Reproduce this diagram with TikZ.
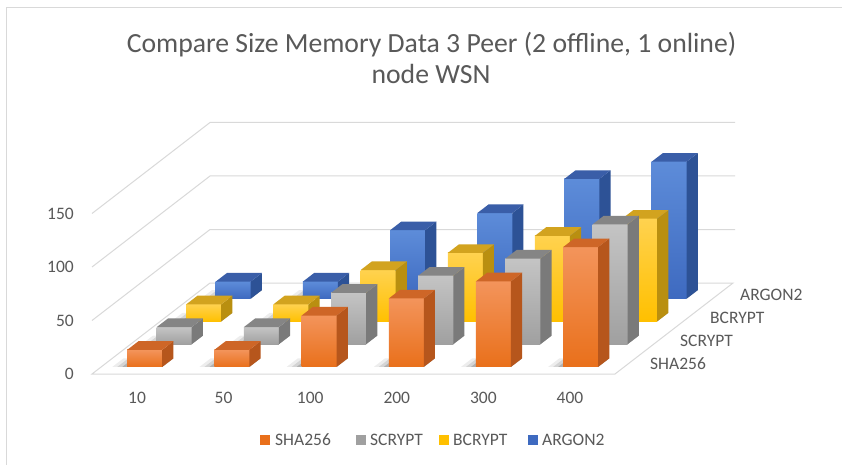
\documentclass[tikz,border=0pt]{standalone}
\usepackage{fontspec}
\setmainfont{Carlito}
\definecolor{txt}{HTML}{595959}
\definecolor{gridc}{HTML}{D9D9D9}
% series colours: front gradient (F1 top, F2 bottom), side face S, top face T
\definecolor{shaF1}{HTML}{F3945B}\definecolor{shaF2}{HTML}{E9701B}
\definecolor{shaS}{HTML}{B6561C}\definecolor{shaT}{HTML}{CE6627}
\definecolor{scrF1}{HTML}{C4C4C4}\definecolor{scrF2}{HTML}{A0A0A0}
\definecolor{scrS}{HTML}{7A7A7A}\definecolor{scrT}{HTML}{858585}
\definecolor{bcrF1}{HTML}{FFD24F}\definecolor{bcrF2}{HTML}{FFC000}
\definecolor{bcrS}{HTML}{B98F10}\definecolor{bcrT}{HTML}{D2A31F}
\definecolor{argF1}{HTML}{5D8CD9}\definecolor{argF2}{HTML}{3E6AC0}
\definecolor{argS}{HTML}{2D5296}\definecolor{argT}{HTML}{3A5EA8}
% one 3-D column: row, category, value, series prefix
\newcommand\drawcol[4]{%
  \pgfmathsetmacro\bx{118.1+87.17*#2+29.5*(#1+0.31)}%
  \pgfmathsetmacro\by{374-22.75*(#1+0.31)}%
  \pgfmathsetmacro\bt{\by-1.07*#3}%
  \foreach \s/\o in {15/0.07,10/0.10,5/0.16}{%
    \fill[black,opacity=\o] (\bx-\s,\by) -- (\bx+35,\by) -- (\bx+46.2,\by-8.6)
      -- (\bx+11.2-\s,\by-8.6) -- cycle;}%
  \shade[top color=#4F1,bottom color=#4F2] (\bx,\by) rectangle (\bx+35,\bt);
  \fill[#4S] (\bx+35,\by) -- (\bx+46.2,\by-8.6) -- (\bx+46.2,\bt-8.6) -- (\bx+35,\bt) -- cycle;
  \fill[#4T] (\bx,\bt) -- (\bx+35,\bt) -- (\bx+46.2,\bt-8.6) -- (\bx+11.2,\bt-8.6) -- cycle;
}
\tikzset{
  lbl/.style={text=txt,font=\fontsize{17.5}{20}\selectfont,inner sep=0pt},
  ttl/.style={text=txt,font=\fontsize{27.7}{30}\selectfont,inner sep=0pt,anchor=base},
  grid/.style={draw=gridc,line width=1pt},
  key/.style={minimum size=10pt,inner sep=0pt,anchor=west}
}
\begin{document}
\begin{tikzpicture}[x=1pt,y=-1pt]
\useasboundingbox (0,0) rectangle (842,465);
\fill[white] (0,0) rectangle (842,465);
% chart frame
\draw[gridc] (6,465) -- (6,7) -- (842,7);
% title
\node[ttl] (t1) at (431.5,53) {Compare Size Memory Data 3 Peer (2 offline, 1 online)};
\node[ttl] (t2) at (431,84) {node WSN};
% floor
\draw[grid,fill=white] (92,374) -- (615,374) -- (733,283) -- (210,283) -- cycle;
% side and back wall gridlines
\foreach \v in {50,100,150}{
  \pgfmathsetmacro\gy{374-1.07*\v}
  \draw[grid] (92,\gy) -- (210,\gy-91) -- (735,\gy-91);
}
% value axis labels
\foreach \v in {0,50,100,150}{
  \node[lbl,anchor=east] (y\v) at (74,374-1.07*\v) {\v};
}
% columns, back row first
\foreach \r/\ser/\vals in {3/arg/{16,16,64,80,112,128},2/bcr/{16,16,48,64,80,96},
                           1/scr/{16,16,48,64,80,112},0/sha/{16,16,48,64,80,112}}{
  \foreach \v [count=\c from 0] in \vals {\drawcol{\r}{\c}{\v}{\ser}}
}
% category labels
\foreach \n [count=\c from 0] in {10,50,100,200,300,400}{
  \node[lbl] (c\n) at (137+86.6*\c,398) {\n};
}
% series labels along the depth axis
\node[lbl,anchor=west] (s0) at (650,364) {SHA256};
\node[lbl,anchor=west] (s1) at (680,341) {SCRYPT};
\node[lbl,anchor=west] (s2) at (710,318) {BCRYPT};
\node[lbl,anchor=west] (s3) at (740,295) {ARGON2};
% legend
\node[key,fill=shaF2] (k0) at (260,440) {};
\node[lbl,anchor=west] (l0) at (275,440) {SHA256};
\node[key,fill=scrF2] (k1) at (356,440) {};
\node[lbl,anchor=west] (l1) at (370,440) {SCRYPT};
\node[key,fill=bcrF2] (k2) at (439,440) {};
\node[lbl,anchor=west] (l2) at (453,440) {BCRYPT};
\node[key,fill=argF2] (k3) at (528,440) {};
\node[lbl,anchor=west] (l3) at (542,440) {ARGON2};
\end{tikzpicture}
\end{document}
